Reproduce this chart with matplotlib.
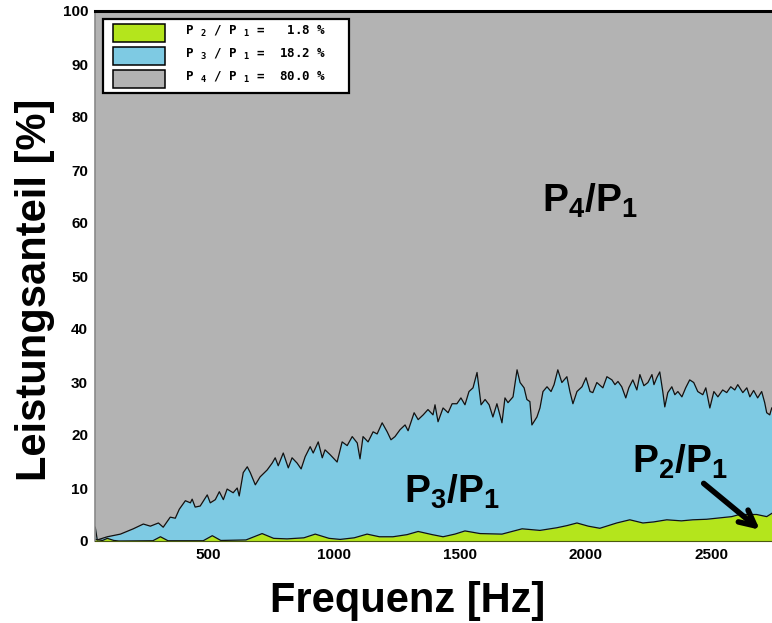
import matplotlib
matplotlib.use("Agg")
import matplotlib.pyplot as plt
import matplotlib.patches as mpatches

# ====== DATA ======
# upper edge of the P3 band (P2 + P3), percent
f_top = [51, 59, 99, 151, 202, 242, 270, 302, 321, 349, 369, 385, 409, 429, 436, 448, 468, 496,
         508, 528, 544, 560, 575, 599, 615, 623, 639, 655, 667, 687, 706, 734, 754, 766, 778, 798,
         818, 833, 853, 869, 885, 905, 917, 937, 953, 964, 984, 1012, 1032, 1052, 1072, 1092, 1103,
         1115, 1135, 1155, 1171, 1191, 1211, 1226, 1242, 1262, 1282, 1294, 1318, 1334, 1354, 1373,
         1393, 1401, 1413, 1433, 1453, 1469, 1488, 1504, 1520, 1536, 1552, 1568, 1584, 1600, 1616,
         1631, 1647, 1667, 1679, 1691, 1711, 1727, 1739, 1755, 1766, 1778, 1786, 1806, 1818, 1830,
         1846, 1862, 1874, 1889, 1905, 1925, 1937, 1949, 1965, 1985, 2001, 2017, 2028, 2044, 2068,
         2084, 2104, 2116, 2128, 2143, 2159, 2171, 2187, 2203, 2215, 2231, 2247, 2263, 2271, 2282,
         2294, 2306, 2314, 2326, 2342, 2354, 2366, 2382, 2397, 2413, 2429, 2445, 2465, 2477, 2493,
         2509, 2525, 2544, 2560, 2576, 2592, 2604, 2624, 2640, 2652, 2667, 2683, 2699, 2711, 2719,
         2731, 2739]
p_top = [2.6, 0.2, 0.8, 1.3, 2.3, 3.2, 2.8, 3.4, 2.6, 4.5, 4.3, 6.0, 7.6, 7.2, 7.9, 6.4, 6.6, 8.7,
         7.2, 7.8, 9.3, 7.8, 9.8, 9.1, 10.0, 8.5, 12.9, 14.0, 12.9, 10.6, 12.1, 13.4, 14.7, 15.7, 14.2, 16.6,
         13.8, 15.7, 14.7, 13.6, 15.9, 17.8, 16.6, 18.7, 15.7, 17.2, 16.3, 14.9, 18.7, 18.0, 19.7, 18.5, 15.5,
         19.7, 18.7, 20.6, 20.2, 22.3, 20.6, 19.1, 19.7, 21.0, 21.9, 20.8, 24.2, 22.9, 23.8, 24.8,
         23.8, 25.7, 22.5, 25.1, 24.2, 25.9, 25.9, 27.0, 25.7, 28.2, 28.9, 31.8, 25.7, 26.7, 25.7,
         23.4, 25.9, 22.3, 27.0, 26.1, 27.2, 32.3, 29.9, 28.9, 26.7, 26.3, 21.9, 23.4, 25.1, 28.2,
         29.1, 28.2, 29.5, 32.3, 29.9, 31.0, 28.2, 25.9, 28.2, 29.1, 30.8, 28.2, 28.0, 29.9, 28.9,
         31.0, 30.4, 29.5, 30.1, 29.1, 27.0, 28.9, 30.4, 28.5, 31.4, 29.3, 29.9, 31.4, 29.5, 30.8,
         31.9, 28.2, 25.3, 28.0, 29.1, 27.6, 28.2, 27.2, 28.9, 30.4, 29.9, 28.2, 27.6, 28.9, 25.1,
         28.2, 27.2, 28.5, 28.0, 29.1, 28.5, 29.5, 28.0, 28.9, 27.2, 28.4, 27.0, 28.2, 26.1, 24.2,
         23.8, 25.1]

# P2/P1, percent
f_p2 = [51, 80, 99, 125, 145, 280, 310, 340, 480, 516, 550, 650, 714, 760, 813, 880, 925, 980,
        1024, 1080, 1131, 1180, 1234, 1290, 1334, 1390, 1433, 1480, 1520, 1580, 1667, 1747, 1818,
        1885, 1925, 1965, 2010, 2056, 2123, 2175, 2227, 2270, 2322, 2380, 2425, 2480, 2520, 2580,
        2611, 2679, 2719, 2739]
p2 = [0.3, 0.1, 0.5, 0.1, 0.0, 0.05, 0.8, 0.05, 0.05, 1.0, 0.1, 0.2, 1.4, 0.5, 0.4, 0.6, 1.3, 0.5,
      0.3, 0.6, 1.3, 0.8, 0.8, 1.2, 1.8, 1.2, 0.8, 1.3, 1.9, 1.4, 1.3, 2.3, 2.0,
      2.5, 2.9, 3.4, 2.8, 2.4, 3.4, 4.0, 3.4, 3.6, 4.0, 3.8, 4.0, 4.1, 4.3, 4.6,
      5.0, 5.0, 4.6, 5.2]

legend_labels = [r"P $_2$ / P $_1$ =   1.8 %",
                 r"P $_3$ / P $_1$ =  18.2 %",
                 r"P $_4$ / P $_1$ =  80.0 %"]

GREEN = "#b4e51c"
BLUE = "#7ecae3"
GRAY = "#b3b3b3"

plt.rcParams["mathtext.fontset"] = "custom"
plt.rcParams["mathtext.rm"] = "DejaVu Sans Mono:bold"
plt.rcParams["mathtext.it"] = "DejaVu Sans Mono:bold"
plt.rcParams["mathtext.bf"] = "Liberation Sans:bold"

fig = plt.figure(figsize=(7.72, 6.23), dpi=100)
ax = fig.add_axes([95 / 772, 1 - 541 / 623, 677 / 772, 530 / 623])
ax.set_facecolor(GRAY)

ax.fill_between(f_top, 0, p_top, color=BLUE, lw=0)
ax.plot(f_top, p_top, color="#111111", lw=0.9)
ax.fill_between(f_p2, 0, p2, color=GREEN, lw=0)
ax.plot(f_p2, p2, color="#111111", lw=0.9)

ax.set_xlim(50, 2740)
ax.set_ylim(0, 100)
ax.set_xticks([500, 1000, 1500, 2000, 2500])
ax.set_yticks(range(0, 101, 10))
ax.tick_params(length=0, labelsize=11, pad=5)
for lab in ax.get_xticklabels() + ax.get_yticklabels():
    lab.set_fontweight("bold")
    lab.set_family("Liberation Sans")

ax.spines["top"].set_linewidth(2.2)
ax.spines["top"].set_color("black")
ax.spines["left"].set_color("#8a8a8a")
ax.spines["left"].set_linewidth(1.2)
ax.spines["bottom"].set_color("#4a5a10")
ax.spines["right"].set_visible(False)

# Beschriftungen im Diagramm
big = dict(fontsize=28, ha="center", va="baseline", color="black")
ax.text(2016, 62.2, r"$\mathbf{P_4/P_1}$", **big)
ax.text(1468, 7.2, r"$\mathbf{P_3/P_1}$", **big)
ax.text(2373, 12.9, r"$\mathbf{P_2/P_1}$", **big)
ax.annotate("", xy=(2700, 1.8), xytext=(2460, 11.2),
            arrowprops=dict(arrowstyle="->,head_length=1.1,head_width=0.55", lw=4, color="black"))

# Legende
ax.add_patch(mpatches.Rectangle((0.0118, 0.845), 0.363, 0.14, transform=ax.transAxes,
                                facecolor="white", edgecolor="black", lw=1.6, zorder=5))
colors = [GREEN, BLUE, GRAY]
rows = [0.9585, 0.915, 0.8717]
for c, yy, lab in zip(colors, rows, legend_labels):
    ax.add_patch(mpatches.Rectangle((0.0266, yy - 0.017), 0.0768, 0.034, transform=ax.transAxes,
                                    facecolor=c, edgecolor="black", lw=1.1, zorder=6))
    ax.text(0.133, yy + 0.004, lab, transform=ax.transAxes, fontsize=9, va="center",
            family="DejaVu Sans Mono", fontweight="bold", zorder=7)

fig.text(35 / 772, 1 - 290 / 623, "Leistungsanteil [%]", rotation=90, ha="center", va="center",
         fontsize=30, fontweight="bold", family="Liberation Sans")
fig.text(408 / 772, 1 - 612 / 623, "Frequenz [Hz]", ha="center", va="baseline",
         fontsize=30, fontweight="bold", family="Liberation Sans")

fig.savefig("out.png", dpi=100)
